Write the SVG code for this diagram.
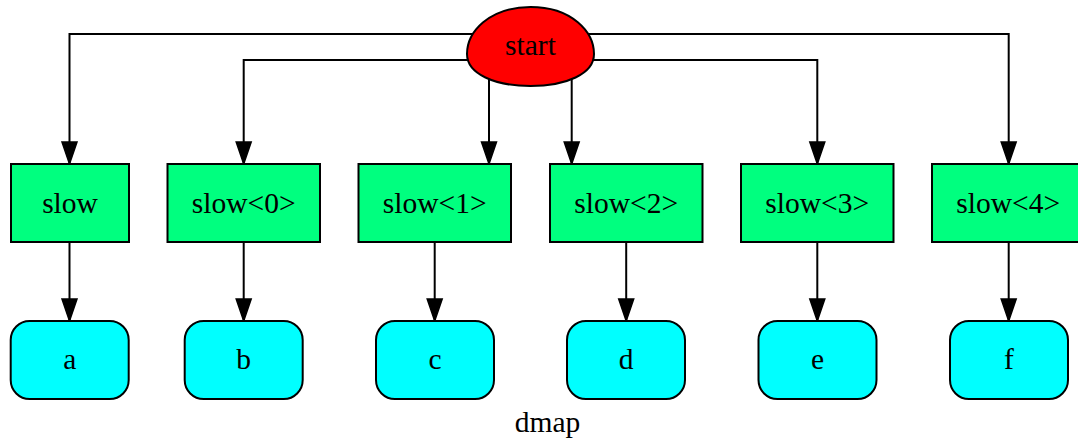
<svg xmlns="http://www.w3.org/2000/svg" width="1078" height="441" viewBox="0 0 1078 441">
<style>
  text { font-family: "Liberation Serif", "Times New Roman", serif; font-size: 29.5px; fill: #000; text-anchor: middle; }
  .edge { fill: none; stroke: #000; stroke-width: 2; marker-end: url(#arrow); }
  .box { fill: #00ff7f; stroke: #000; stroke-width: 2; }
  .leaf { fill: #00ffff; stroke: #000; stroke-width: 2; }
  .egg { fill: #ff0000; stroke: #000; stroke-width: 2; }
</style>
<defs>
  <marker id="arrow" viewBox="0 0 24 18" markerWidth="24" markerHeight="18" refX="23" refY="9" markerUnits="userSpaceOnUse" orient="auto" overflow="visible">
    <path d="M1,1.5 L23,9 L1,16.5 Z" fill="#000" stroke="#000" stroke-width="1.5"/>
  </marker>
</defs>
<rect width="1078" height="441" fill="#fff"/>
<g id="connectors">
  <path class="edge" d="M530,34 H69.5 V164"/>
  <path class="edge" d="M530,60 H243.7 V164"/>
  <path class="edge" d="M489,70 V164"/>
  <path class="edge" d="M571.7,70 V164"/>
  <path class="edge" d="M530,60 H817.3 V164"/>
  <path class="edge" d="M530,34 H1008.7 V164"/>
  <path class="edge" d="M69.5,242 V321"/>
  <path class="edge" d="M243.7,242 V321"/>
  <path class="edge" d="M434.7,242 V321"/>
  <path class="edge" d="M626.2,242 V321"/>
  <path class="edge" d="M817.3,242 V321"/>
  <path class="edge" d="M1008.7,242 V321"/>
</g>
<g id="start">
  <path class="egg" d="M530.5,7 C572,7 594,32 594,54 C594,74 566,86 530.5,86 C495,86 467,74 467,54 C467,32 489,7 530.5,7 Z"/>
  <text x="530.5" y="55">start</text>
</g>
<g id="slow">
  <rect class="box" x="11" y="164" width="118" height="78"/>
  <text x="70" y="213">slow</text>
</g>
<g id="slow0">
  <rect class="box" x="167.5" y="164" width="152.5" height="78"/>
  <text x="243.7" y="213">slow&lt;0&gt;</text>
</g>
<g id="slow1">
  <rect class="box" x="358.5" y="164" width="152.5" height="78"/>
  <text x="434.7" y="213">slow&lt;1&gt;</text>
</g>
<g id="slow2">
  <rect class="box" x="550" y="164" width="152.5" height="78"/>
  <text x="626.2" y="213">slow&lt;2&gt;</text>
</g>
<g id="slow3">
  <rect class="box" x="741" y="164" width="152.5" height="78"/>
  <text x="817.2" y="213">slow&lt;3&gt;</text>
</g>
<g id="slow4">
  <rect class="box" x="932" y="164" width="152.5" height="78"/>
  <text x="1008.2" y="213">slow&lt;4&gt;</text>
</g>
<g id="a">
  <rect class="leaf" x="10.7" y="321" width="118" height="78" rx="19" ry="19"/>
  <text x="69.7" y="369">a</text>
</g>
<g id="b">
  <rect class="leaf" x="184.7" y="321" width="118" height="78" rx="19" ry="19"/>
  <text x="243.7" y="369">b</text>
</g>
<g id="c">
  <rect class="leaf" x="376" y="321" width="118" height="78" rx="19" ry="19"/>
  <text x="435" y="369">c</text>
</g>
<g id="d">
  <rect class="leaf" x="567" y="321" width="118" height="78" rx="19" ry="19"/>
  <text x="626" y="369">d</text>
</g>
<g id="e">
  <rect class="leaf" x="758.5" y="321" width="118" height="78" rx="19" ry="19"/>
  <text x="817.5" y="369">e</text>
</g>
<g id="f">
  <rect class="leaf" x="950" y="321" width="118" height="78" rx="19" ry="19"/>
  <text x="1009" y="369">f</text>
</g>
<text id="graph-label" x="547.5" y="432">dmap</text>
</svg>
